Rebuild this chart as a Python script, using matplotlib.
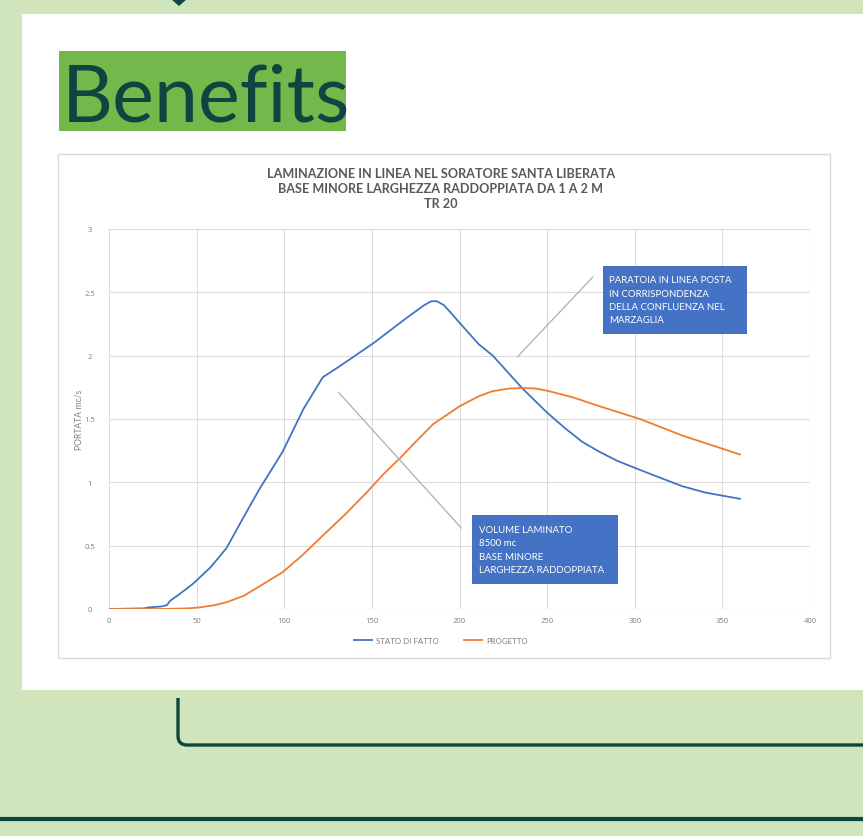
import matplotlib.pyplot as plt
from matplotlib.patches import Rectangle, Polygon, PathPatch
from matplotlib.path import Path

# --- data ---
t_stato = [0, 20, 23, 30, 33, 35, 40, 48, 58, 67, 77, 86, 99, 111, 122, 132,
           151, 170, 176, 180, 184, 187, 191, 195, 200, 211, 219, 236, 250,
           260, 270, 280, 290, 299, 310, 327, 340, 360]
q_stato = [0, 0.005, 0.013, 0.02, 0.03, 0.066, 0.115, 0.2, 0.33, 0.48, 0.73,
           0.95, 1.24, 1.58, 1.83, 1.92, 2.1, 2.3, 2.36, 2.40, 2.43, 2.43,
           2.40, 2.34, 2.26, 2.09, 2.0, 1.74, 1.55, 1.43, 1.32, 1.24, 1.17,
           1.12, 1.06, 0.97, 0.92, 0.87]

t_progetto = [0, 30, 45, 52, 60, 67, 77, 86, 99, 110, 122, 135, 147, 157, 166,
              175, 185, 200, 211, 219, 228, 236, 244, 251, 265, 280, 303, 327, 360]
q_progetto = [0, 0.0, 0.005, 0.013, 0.03, 0.053, 0.105, 0.18, 0.29, 0.42, 0.58,
              0.75, 0.92, 1.07, 1.19, 1.32, 1.46, 1.6, 1.68, 1.72, 1.74, 1.745,
              1.74, 1.72, 1.67, 1.6, 1.5, 1.37, 1.22]

series_names = ["STATO DI FATTO", "PROGETTO"]
x_ticks = [0, 50, 100, 150, 200, 250, 300, 350, 400]
y_ticks = [0, 0.5, 1, 1.5, 2, 2.5, 3]
y_tick_labels = ["0", "0.5", "1", "1.5", "2", "2.5", "3"]

chart_title = ("LAMINAZIONE IN LINEA NEL SORATORE SANTA LIBERATA\n"
               "BASE MINORE LARGHEZZA RADDOPPIATA DA 1 A 2 M\nTR 20")
note_gate = ("PARATOIA IN LINEA POSTA\nIN CORRISPONDENZA\n"
             "DELLA CONFLUENZA NEL\nMARZAGLIA")
note_volume = "VOLUME LAMINATO\n8500 mc\nBASE MINORE\nLARGHEZZA RADDOPPIATA"

# --- layout ---
W, H = 863, 837
BG = "#d1e5bd"
DARK = "#0e4540"
BLUE = "#4472c4"
ORANGE = "#ed7d31"
GREY = "#595959"
TICK_GREY = "#7f7f7f"


def fx(px):
    return px / W


def fy(py):
    return 1 - py / H


fig = plt.figure(figsize=(W / 100, H / 100), dpi=100, facecolor=BG)

# white panel
fig.add_artist(Rectangle((fx(22), fy(691)), fx(863) - fx(22), fy(15) - fy(691),
                         transform=fig.transFigure, facecolor="white",
                         edgecolor="none", zorder=-2))
# small arrow tip at the top
fig.add_artist(Polygon([(fx(171), fy(0)), (fx(187), fy(0)), (fx(179), fy(7))],
                       closed=True, transform=fig.transFigure,
                       facecolor=DARK, edgecolor="none"))
# bracket under the panel
bracket = Path([(fx(178), fy(699)), (fx(178), fy(737)), (fx(178), fy(746)),
                (fx(187), fy(746)), (fx(863), fy(746))],
               [Path.MOVETO, Path.LINETO, Path.CURVE3, Path.CURVE3, Path.LINETO])
fig.add_artist(PathPatch(bracket, transform=fig.transFigure, facecolor="none",
                         edgecolor=DARK, lw=2.4))
fig.add_artist(plt.Line2D([0, 1], [fy(820), fy(820)], transform=fig.transFigure,
                          color=DARK, lw=3))

# Benefits heading
fig.add_artist(Rectangle((fx(59), fy(132)), fx(346) - fx(59), fy(52) - fy(132),
                         transform=fig.transFigure, facecolor="#72b84a",
                         edgecolor="none"))
fig.text(fx(62), fy(121), "Benefits", fontsize=57, family="Lato",
         color=DARK, va="baseline", ha="left")

# chart image frame
fig.add_artist(Rectangle((fx(58), fy(659)), fx(830) - fx(58), fy(155) - fy(659),
                         transform=fig.transFigure, facecolor="white",
                         edgecolor="#d9d9d9", lw=1, zorder=-1))

fig.text(fx(441), fy(168), chart_title, ha="center", va="top", fontsize=9.1,
         family="Lato", weight="bold", color=GREY, linespacing=1.3)

ax = fig.add_axes([fx(109), fy(610), fx(810) - fx(109), fy(230) - fy(610)])
ax.set_zorder(2)
ax.patch.set_alpha(0)
ax.plot(t_stato, q_stato, color=BLUE, lw=1.3, label=series_names[0])
ax.plot(t_progetto, q_progetto, color=ORANGE, lw=1.3, label=series_names[1])

ax.set_xlim(0, 400)
ax.set_ylim(0, 3)
ax.set_xticks(x_ticks)
ax.set_yticks(y_ticks)
ax.set_yticklabels(y_tick_labels)
ax.grid(True, color="#dcdcdc", lw=0.8)
ax.set_axisbelow(True)
for s in ax.spines.values():
    s.set_visible(False)
ax.tick_params(axis="x", length=0, labelsize=5.5, labelcolor=TICK_GREY, pad=6)
ax.tick_params(axis="y", length=0, labelsize=5.5, labelcolor=TICK_GREY, pad=14)
for lab in ax.get_xticklabels() + ax.get_yticklabels():
    lab.set_family("Open Sans")
    lab.set_horizontalalignment("center")
ax.set_ylabel("PORTATA mc/s", fontsize=6.2, color=TICK_GREY, family="Lato",
              labelpad=0.5)

leg = ax.legend(loc="upper center", bbox_to_anchor=(0.473, -0.055), ncol=2,
                frameon=False, handlelength=2.3, columnspacing=3.2,
                handletextpad=0.5, prop={"family": "Lato", "size": 5.7})
for t in leg.get_texts():
    t.set_color(TICK_GREY)

# callouts
ax.plot([233, 276], [1.99, 2.62], color="#adb6c8", lw=1)
ax.plot([131, 201], [1.71, 0.64], color="#adb6c8", lw=1)
ax.add_patch(Rectangle((281.6, 2.18), 82.1, 0.53, facecolor=BLUE,
                       edgecolor="#3a64b0", lw=0.6))
ax.add_patch(Rectangle((207.0, 0.205), 82.6, 0.537, facecolor=BLUE,
                       edgecolor="#3a64b0", lw=0.6))
ax.text(285.5, 2.44, note_gate, fontsize=6.9, family="Lato", color="white",
        va="center", ha="left", linespacing=1.62)
ax.text(211.0, 0.47, note_volume, fontsize=6.9, family="Lato", color="white",
        va="center", ha="left", linespacing=1.62)

fig.savefig("out.png", dpi=100, facecolor=BG)
